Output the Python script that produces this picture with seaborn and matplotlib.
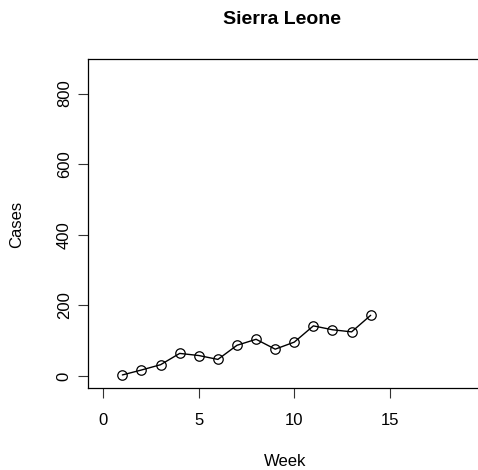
import matplotlib
matplotlib.use("Agg")
import matplotlib.pyplot as plt
import seaborn as sns
import pandas as pd

# Weekly case counts
weeks = [1, 2, 3, 4, 5, 6, 7, 8, 9, 10, 11, 12, 13, 14]
cases = [3, 17, 32, 64, 58, 47, 87, 104, 76, 96, 142, 131, 125, 172]
x_ticks = [0, 5, 10, 15]
y_ticks = [0, 200, 400, 600, 800]

sns.set_style("white")
plt.rcParams["font.family"] = ["Liberation Sans", "DejaVu Sans"]
plt.rcParams["text.color"] = "black"
plt.rcParams["axes.labelcolor"] = "black"

W, H = 478, 470
fig = plt.figure(figsize=(W / 100, H / 100), dpi=100)
# plot region in pixels: left 88, right (past the edge) 484, top 59, bottom 388
ax = fig.add_axes([88 / W, (H - 388) / H, (484 - 88) / W, (388 - 59) / H])

df = pd.DataFrame({"Week": weeks, "Cases": cases})
sns.lineplot(data=df, x="Week", y="Cases", ax=ax, color="black", linewidth=1.0,
             marker="o", markersize=6.8, markerfacecolor="none",
             markeredgecolor="black", markeredgewidth=0.9)

ax.set_xlim(-0.8, (484 - 103.3) / 19.1)
ax.set_ylim(-34, 898)
ax.set_xticks(x_ticks)
ax.set_yticks(y_ticks)
ax.set_xticklabels([str(v) for v in x_ticks])
ax.set_yticklabels([str(v) for v in y_ticks], rotation=90, va="center")

for s in ax.spines.values():
    s.set_visible(True)
    s.set_color("black")
    s.set_linewidth(0.9)
# the right side of the box falls past the figure edge
ax.spines["right"].set_visible(False)

ax.tick_params(axis="both", which="major", direction="out", length=7.2, width=0.8,
               color="#333333", labelsize=12, labelcolor="black",
               bottom=True, left=True)
ax.tick_params(axis="x", pad=11)
ax.tick_params(axis="y", pad=4.5)

ax.set_xlabel("")
ax.set_ylabel("")
fig.text(285 / W, 1 - 461.7 / H, "Week", ha="center", va="center", fontsize=12,
         color="black")
fig.text(17 / W, 1 - 224 / H, "Cases", ha="center", va="center", fontsize=12,
         rotation=90, color="black")
fig.text(282 / W, 1 - 19 / H, "Sierra Leone", ha="center", va="center",
         fontsize=14, fontweight="bold", color="black")

fig.savefig("out.png", dpi=100)
